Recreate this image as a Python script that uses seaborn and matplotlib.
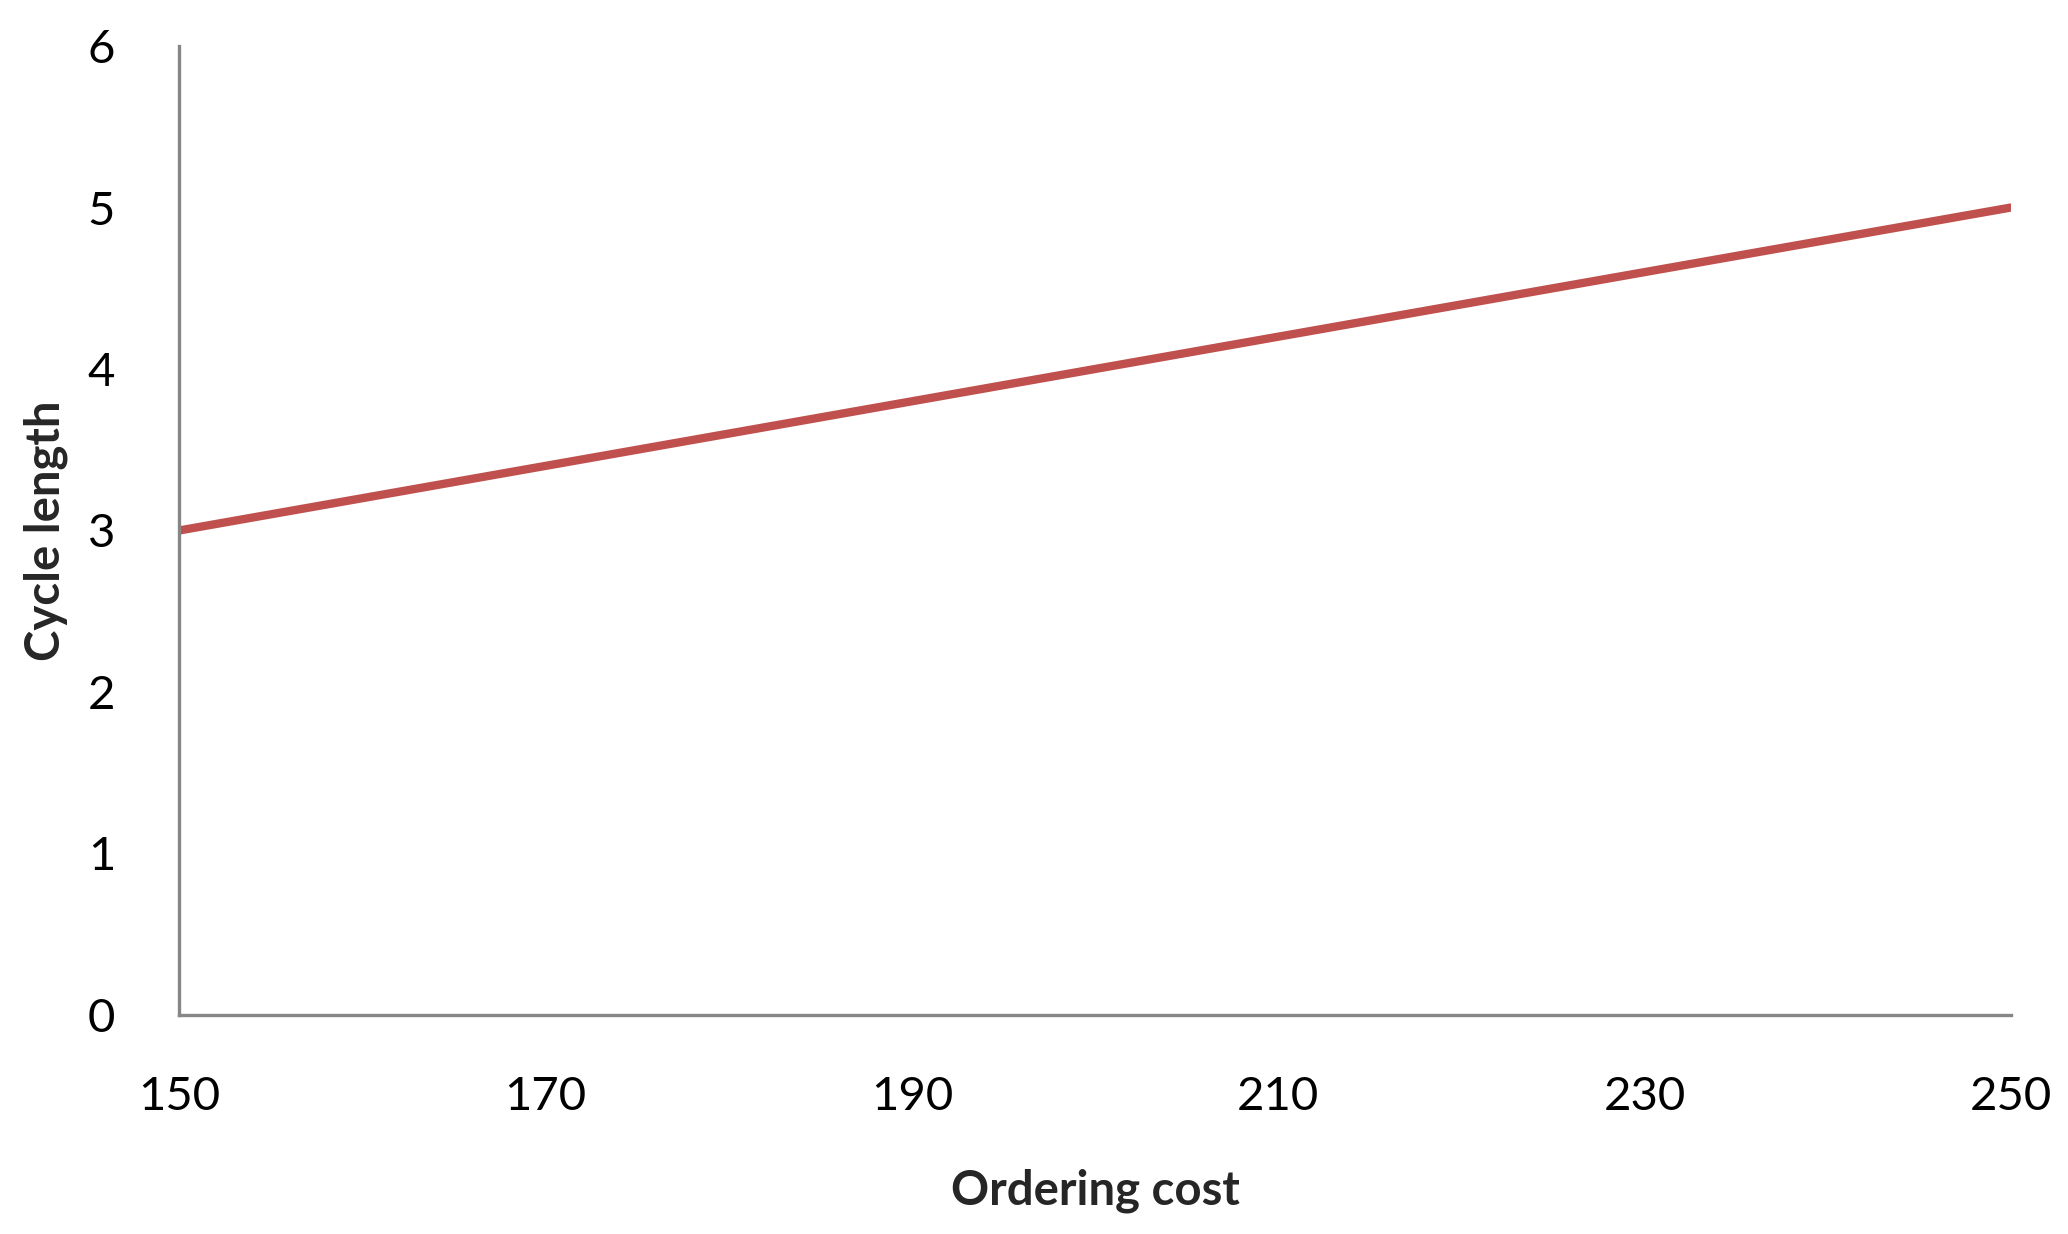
import matplotlib
matplotlib.use("Agg")
import matplotlib.pyplot as plt
import seaborn as sns
import pandas as pd

ordering_cost = [150, 250]
cycle_length = [3, 5]
x_ticks = [150, 170, 190, 210, 230, 250]
y_ticks = [0, 1, 2, 3, 4, 5, 6]

sns.set_style("white")
plt.rcParams['font.family'] = ['Lato', 'DejaVu Sans']

df = pd.DataFrame({"Ordering cost": ordering_cost, "Cycle length": cycle_length})

fig = plt.figure(figsize=(20.68, 12.34), dpi=100)
ax = fig.add_axes([0.0866, 0.1775, 0.9724 - 0.0866, 0.9627 - 0.1775])

sns.lineplot(data=df, x="Ordering cost", y="Cycle length", ax=ax,
             color="#C0504D", linewidth=6)

ax.set_xlim(150, 250)
ax.set_ylim(0, 6)
ax.set_xticks(x_ticks)
ax.set_yticks(y_ticks)
ax.tick_params(axis="x", length=0, pad=44, labelsize=34, colors="black")
ax.tick_params(axis="y", length=0, pad=46, labelsize=34, colors="black")

for s in ["top", "right"]:
    ax.spines[s].set_visible(False)
for s in ["left", "bottom"]:
    ax.spines[s].set_color("#868686")
    ax.spines[s].set_linewidth(2.4)

ax.set_xlabel("Ordering cost", fontsize=34, fontweight="bold", labelpad=36)
ax.set_ylabel("Cycle length", fontsize=34, fontweight="bold", labelpad=14)

fig.savefig("out.png", dpi=100)
